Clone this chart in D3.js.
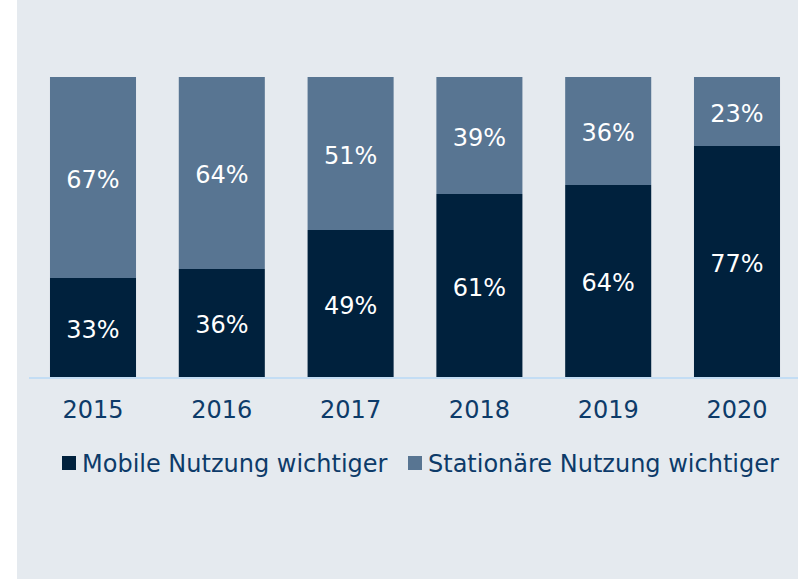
<!DOCTYPE html>
<html>
<head>
<meta charset="utf-8">
<script src="https://cdn.jsdelivr.net/npm/d3@7"></script>
<style>
  body { margin: 0; background: #fff; }
  svg { display: block; }
  text { font-family: "DejaVu Sans", Verdana, sans-serif; }
</style>
</head>
<body>
<svg id="viz"></svg>
<script>
var width = 798;
var height = 580;

var years = ["2015", "2016", "2017", "2018", "2019", "2020"];
var mobile = [33, 36, 49, 61, 64, 77];
var stationaer = [67, 64, 51, 39, 36, 23];
var seriesNames = ["Mobile Nutzung wichtiger", "Stationäre Nutzung wichtiger"];
var seriesColors = ["#00213d", "#587592"];

var svg = d3.select("#viz").attr("width", width).attr("height", height);

// panel background
svg.append("rect")
    .attr("x", 17).attr("y", 0)
    .attr("width", width - 17).attr("height", height - 1)
    .attr("fill", "#e5eaef");

var x = d3.scaleBand()
    .domain(years)
    .range([28.6, 801.4])
    .paddingInner(0.332)
    .paddingOuter(0.166);

var y = d3.scaleLinear()
    .domain([0, 100])
    .range([377, 77]);

var rows = years.map(function(d, i) {
    return { year: d, mobile: mobile[i], stationaer: stationaer[i] };
});

var stack = d3.stack().keys(["mobile", "stationaer"]);
var layers = stack(rows);

var g = svg.append("g");

layers.forEach(function(layer, li) {
    g.append("g")
        .selectAll("rect")
        .data(layer)
        .enter()
        .append("rect")
        .attr("x", function(d) { return x(d.data.year); })
        .attr("y", function(d) { return y(d[1]); })
        .attr("width", x.bandwidth())
        .attr("height", function(d) { return y(d[0]) - y(d[1]); })
        .attr("fill", seriesColors[li]);

    g.append("g")
        .selectAll("text")
        .data(layer)
        .enter()
        .append("text")
        .attr("x", function(d) { return x(d.data.year) + x.bandwidth() / 2; })
        .attr("y", function(d) { return (y(d[0]) + y(d[1])) / 2; })
        .attr("dy", "0.42em")
        .attr("text-anchor", "middle")
        .attr("fill", "#ffffff")
        .attr("font-size", "24px")
        .text(function(d) { return (d[1] - d[0]) + "%"; });
});

// baseline
svg.append("line")
    .attr("x1", 29).attr("x2", width)
    .attr("y1", 378).attr("y2", 378)
    .attr("stroke", "#c3ddf4")
    .attr("stroke-width", 2);

// year labels
var xAxis = d3.axisBottom(x).tickSize(0).tickPadding(0);
var ax = svg.append("g")
    .attr("transform", "translate(0,400)")
    .call(xAxis);
ax.select(".domain").remove();
ax.selectAll("text")
    .attr("dy", "0.73em")
    .attr("font-size", "24px")
    .attr("font-family", "DejaVu Sans, Verdana, sans-serif")
    .attr("fill", "#0d3b69");

// legend
var legendX = [62, 408];
var legend = svg.append("g");
seriesNames.forEach(function(name, i) {
    legend.append("rect")
        .attr("x", legendX[i]).attr("y", 456)
        .attr("width", 14).attr("height", 14)
        .attr("fill", seriesColors[i]);
    legend.append("text")
        .attr("x", legendX[i] + 20).attr("y", 472)
        .attr("font-size", "24px")
        .attr("fill", "#0d3b69")
        .text(name);
});
</script>
</body>
</html>
